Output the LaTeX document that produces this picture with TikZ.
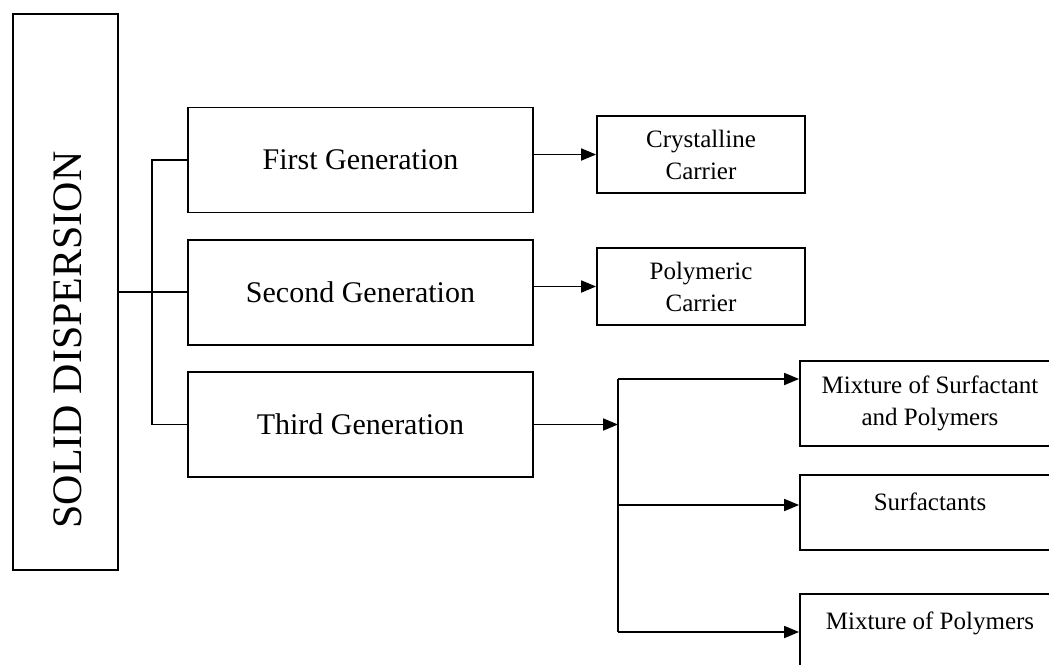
\documentclass[tikz,border=0pt]{standalone}
\usepackage{fontspec}
\setmainfont{Liberation Serif}
\usetikzlibrary{arrows.meta,positioning,calc}
\tikzset{
  >={Triangle[length=15pt,width=12pt]},
  % boxes
  genbox/.style={draw,line width=1.8pt,minimum width=345pt,minimum height=105pt,inner sep=0pt,
                 font=\fontsize{30}{34}\selectfont},
  carbox/.style={draw,line width=1.8pt,minimum width=208pt,minimum height=77pt,inner sep=0pt,
                 align=center,font=\fontsize{25}{32}\selectfont},
  subbox/.style={draw,line width=1.8pt,minimum width=260pt,inner sep=0pt,
                 align=center,font=\fontsize{25}{32}\selectfont},
  toptext/.style={text height=35pt,text depth=40pt},
  % links
  link/.style={draw,line width=1.8pt},
  arr/.style={->,draw,line width=1.8pt},
}
\begin{document}
\begin{tikzpicture}[x=1pt,y=-1pt]
  \useasboundingbox (0,0) rectangle (1049,664);
  \node[draw,line width=1.8pt,minimum width=105pt,minimum height=556pt,inner sep=0pt] (solid) at (65.5,292) {};
  \node[rotate=90,font=\fontsize{42}{46}\selectfont] (soltxt) at (67.5,340) {SOLID DISPERSION};
  \node[genbox] (first) at (360.5,160) {First Generation};
  \node[genbox] (second) at (360.5,292.5) {Second Generation};
  \node[genbox] (third) at (360.5,424.5) {Third Generation};
  \node[carbox] (cryst) at (701,154.5) {Crystalline\\Carrier};
  \node[carbox] (poly) at (701,286.5) {Polymeric\\Carrier};
  \node[subbox,minimum height=85pt] (mixsp) at (930,403.5) {Mixture of Surfactant\\and Polymers};
  \node[subbox,toptext] (surf) at (930,512.5) {Surfactants};
  \node[subbox,toptext] (mixp) at (930,631.5) {Mixture of Polymers};
  \coordinate (spine) at (152,292);
  \coordinate (fork) at (618,424.5);
  \coordinate (ftop) at (618,379);
  \coordinate (fmid) at (618,505);
  \coordinate (fbot) at (618,632);
  % tree
  \draw[link] (solid.east) -- (solid.east -| second.west);
  \draw[link] (first.west) -| (spine) |- (third.west);
  \draw[arr] (first.east |- cryst.west) -- (cryst.west);
  \draw[arr] (second.east |- poly.west) -- (poly.west);
  \draw[arr] (third.east) -- (fork);
  \draw[link] (ftop) -- (fbot);
  \draw[arr] (ftop) -- (ftop -| mixsp.west);
  \draw[arr] (fmid) -- (fmid -| surf.west);
  \draw[arr] (fbot) -- (fbot -| mixp.west);
\end{tikzpicture}
\end{document}
